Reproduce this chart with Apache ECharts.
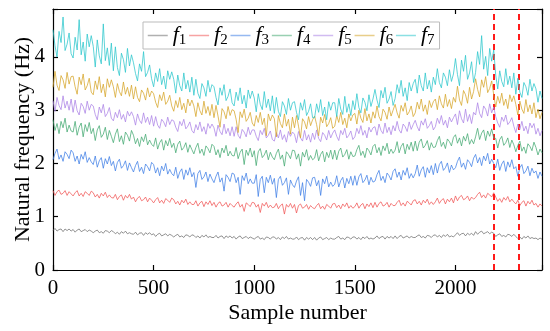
<!DOCTYPE html>
<html><head><meta charset="utf-8">
<script src="https://cdn.jsdelivr.net/npm/echarts@6/dist/echarts.min.js"></script>
<style>html,body{margin:0;padding:0;background:#fff}#c{width:550px;height:331px}</style>
</head><body><div id="c"></div>
<script>
const sampleNumbers = [0,10,20,30,40,50,60,70,80,90,100,110,120,130,140,150,160,170,180,190,200,210,220,230,240,250,260,270,280,290,300,310,320,330,340,350,360,370,380,390,400,410,420,430,440,450,460,470,480,490,500,510,520,530,540,550,560,570,580,590,600,610,620,630,640,650,660,670,680,690,700,710,720,730,740,750,760,770,780,790,800,810,820,830,840,850,860,870,880,890,900,910,920,930,940,950,960,970,980,990,1000,1010,1020,1030,1040,1050,1060,1070,1080,1090,1100,1110,1120,1130,1140,1150,1160,1170,1180,1190,1200,1210,1220,1230,1240,1250,1260,1270,1280,1290,1300,1310,1320,1330,1340,1350,1360,1370,1380,1390,1400,1410,1420,1430,1440,1450,1460,1470,1480,1490,1500,1510,1520,1530,1540,1550,1560,1570,1580,1590,1600,1610,1620,1630,1640,1650,1660,1670,1680,1690,1700,1710,1720,1730,1740,1750,1760,1770,1780,1790,1800,1810,1820,1830,1840,1850,1860,1870,1880,1890,1900,1910,1920,1930,1940,1950,1960,1970,1980,1990,2000,2010,2020,2030,2040,2050,2060,2070,2080,2090,2100,2110,2120,2130,2140,2150,2160,2170,2180,2190,2200,2210,2220,2230,2240,2250,2260,2270,2280,2290,2300,2310,2320,2330,2340,2350,2360,2370,2380,2390,2400,2410,2420,2430];

const f1 = [.74,.78,.73,.76,.77,.72,.77,.74,.77,.73, .76,.71,.75,.77,.72,.74,.76,.72,.75,.73, .70,.73,.75,.70,.72,.69,.74,.73,.70,.74, .72,.68,.71,.67,.72,.69,.73,.68,.70,.68, .67,.71,.66,.69,.70,.65,.70,.67,.70,.66, .68,.63,.67,.69,.64,.66,.68,.64,.67,.65, .62,.65,.67,.62,.64,.61,.66,.65,.62,.66, .65,.61,.64,.60,.65,.62,.66,.61,.63,.61, .61,.65,.60,.63,.64,.59,.64,.61,.64,.60, .63,.58,.62,.64,.59,.61,.63,.59,.62,.60, .58,.61,.63,.58,.60,.57,.62,.61,.58,.62, .62,.58,.61,.57,.62,.59,.63,.58,.60,.58, .58,.62,.57,.60,.61,.56,.61,.58,.61,.57, .61,.56,.60,.62,.57,.59,.61,.57,.60,.58, .58,.61,.63,.58,.60,.57,.62,.61,.58,.62, .62,.58,.61,.57,.62,.59,.63,.58,.60,.58, .60,.64,.59,.62,.63,.58,.63,.60,.63,.59, .64,.59,.63,.65,.60,.62,.64,.60,.63,.61, .61,.64,.66,.61,.63,.60,.65,.64,.61,.65, .66,.62,.65,.61,.66,.63,.67,.62,.64,.62, .66,.70,.65,.68,.69,.64,.69,.66,.69,.65, .72,.67,.71,.73,.68,.70,.72,.68,.71,.69, .63,.66,.68,.63,.65,.62,.67,.66,.63,.67, .63,.59,.62,.58,.63,.60,.64,.59,.61,.59, .60,.57,.60,.58];
const f2 = [1.49,1.40,1.47,1.50,1.42,1.44,1.49,1.40,1.47,1.43, 1.39,1.45,1.49,1.39,1.44,1.38,1.47,1.44,1.40,1.48, 1.45,1.37,1.42,1.35,1.44,1.39,1.46,1.36,1.41,1.36, 1.35,1.42,1.32,1.38,1.41,1.31,1.40,1.35,1.42,1.33, 1.37,1.28,1.35,1.38,1.30,1.32,1.37,1.28,1.35,1.31, 1.26,1.32,1.36,1.26,1.31,1.25,1.34,1.31,1.27,1.35, 1.32,1.24,1.29,1.22,1.31,1.26,1.33,1.23,1.28,1.23, 1.23,1.30,1.20,1.26,1.29,1.19,1.28,1.23,1.30,1.21, 1.27,1.18,1.25,1.28,1.20,1.22,1.27,1.18,1.25,1.21, 1.18,1.24,1.28,1.18,1.23,1.10,1.26,1.23,1.19,1.27, 1.26,1.18,1.23,1.08,1.25,1.20,1.27,1.17,1.22,1.17, 1.18,1.25,1.15,1.21,1.24,1.05,1.23,1.18,1.25,1.16, 1.23,1.07,1.21,1.24,1.16,1.18,1.23,1.14,1.21,1.17, 1.15,1.21,1.25,1.15,1.20,1.14,1.23,1.20,1.16,1.24, 1.25,1.17,1.22,1.15,1.24,1.19,1.26,1.16,1.21,1.16, 1.19,1.26,1.16,1.22,1.25,1.15,1.24,1.19,1.26,1.17, 1.27,1.18,1.25,1.28,1.20,1.22,1.27,1.18,1.25,1.21, 1.21,1.27,1.31,1.21,1.26,1.20,1.29,1.26,1.22,1.30, 1.32,1.24,1.29,1.22,1.31,1.26,1.33,1.23,1.28,1.23, 1.28,1.35,1.25,1.31,1.34,1.24,1.33,1.28,1.35,1.26, 1.39,1.30,1.37,1.40,1.32,1.34,1.39,1.30,1.37,1.33, 1.36,1.42,1.46,1.36,1.41,1.35,1.44,1.41,1.37,1.45, 1.37,1.29,1.34,1.27,1.36,1.31,1.38,1.28,1.33,1.28, 1.24,1.31,1.21,1.27,1.30,1.20,1.29,1.24,1.31,1.22, 1.25,1.18,1.24,1.20];
const f3 = [2.07,2.19,2.27,2.08,2.16,2.04,2.22,2.17,2.09,2.25, 2.20,2.04,2.14,1.99,2.17,2.08,2.22,2.02,2.11,2.03, 1.98,2.14,1.93,2.05,2.11,1.91,2.09,1.99,2.13,1.96, 2.04,1.86,2.02,2.08,1.91,1.96,2.05,1.87,2.01,1.92, 1.84,1.96,2.04,1.85,1.93,1.81,1.99,1.94,1.86,2.02, 1.98,1.82,1.92,1.77,1.95,1.86,2.00,1.80,1.89,1.81, 1.77,1.93,1.72,1.84,1.90,1.70,1.88,1.78,1.92,1.75, 1.83,1.55,1.81,1.87,1.70,1.75,1.84,1.66,1.80,1.71, 1.64,1.76,1.84,1.65,1.73,1.48,1.79,1.74,1.66,1.82, 1.80,1.64,1.74,1.42,1.77,1.68,1.82,1.62,1.71,1.63, 1.63,1.79,1.38,1.70,1.76,1.45,1.74,1.64,1.78,1.61, 1.72,1.36,1.70,1.76,1.59,1.64,1.73,1.42,1.69,1.60, 1.55,1.67,1.75,1.40,1.64,1.30,1.70,1.65,1.57,1.73, 1.74,1.58,1.68,1.40,1.71,1.62,1.76,1.56,1.65,1.57, 1.61,1.77,1.56,1.68,1.74,1.54,1.72,1.62,1.76,1.59, 1.77,1.59,1.75,1.81,1.64,1.69,1.78,1.60,1.74,1.65, 1.67,1.79,1.87,1.68,1.76,1.64,1.82,1.77,1.69,1.85, 1.90,1.74,1.84,1.69,1.87,1.78,1.92,1.72,1.81,1.73, 1.81,1.97,1.76,1.88,1.94,1.74,1.92,1.82,1.96,1.79, 2.00,1.82,1.98,2.04,1.87,1.92,2.01,1.83,1.97,1.88, 1.92,2.04,2.12,1.93,2.01,1.89,2.07,2.02,1.94,2.10, 2.17,2.01,2.11,1.96,2.14,2.05,2.19,1.99,2.08,2.00, 1.92,2.08,1.87,1.99,2.05,1.85,2.03,1.93,2.07,1.90, 1.94,1.76,1.92,1.98,1.81,1.86,1.95,1.77,1.91,1.82, 1.86,1.72,1.84,1.76];
const f4 = [2.82,2.62,2.75,2.56,2.79,2.67,2.85,2.59,2.72,2.61, 2.59,2.79,2.53,2.68,2.76,2.50,2.73,2.60,2.77,2.56, 2.66,2.43,2.63,2.71,2.49,2.55,2.68,2.45,2.62,2.51, 2.39,2.55,2.65,2.41,2.52,2.36,2.59,2.53,2.42,2.62, 2.53,2.37,2.47,2.32,2.50,2.41,2.55,2.35,2.44,2.36, 2.32,2.48,2.27,2.39,2.45,2.25,2.43,2.33,2.47,2.30, 2.38,2.20,2.36,2.42,2.25,2.30,2.39,2.21,2.35,2.26, 2.18,2.30,2.38,2.19,2.27,2.15,2.33,2.28,2.20,2.36, 2.32,2.16,2.26,2.11,2.29,2.20,2.34,2.14,2.23,2.15, 2.14,2.30,2.09,2.21,2.27,1.98,2.25,2.15,2.29,2.12, 2.24,1.96,2.22,2.28,2.11,2.16,2.25,2.07,2.21,2.12, 2.07,2.19,2.27,2.08,2.16,1.95,2.22,2.17,2.09,2.25, 2.24,2.08,2.18,1.95,2.21,2.12,2.26,2.06,2.15,2.07, 2.10,2.26,2.05,2.17,2.23,2.03,2.21,2.11,2.25,2.08, 2.25,2.07,2.23,2.29,2.12,2.17,2.26,2.08,2.22,2.13, 2.14,2.26,2.34,2.15,2.23,2.11,2.29,2.24,2.16,2.32, 2.36,2.20,2.30,2.15,2.33,2.24,2.38,2.18,2.27,2.19, 2.25,2.41,2.20,2.32,2.38,2.18,2.36,2.26,2.40,2.23, 2.42,2.24,2.40,2.46,2.29,2.34,2.43,2.25,2.39,2.30, 2.31,2.43,2.51,2.32,2.40,2.28,2.46,2.41,2.33,2.49, 2.54,2.38,2.48,2.33,2.51,2.42,2.56,2.36,2.45,2.37, 2.50,2.66,2.45,2.57,2.63,2.43,2.61,2.51,2.65,2.48, 2.47,2.29,2.45,2.51,2.34,2.39,2.48,2.30,2.44,2.35, 2.22,2.34,2.42,2.23,2.31,2.19,2.37,2.32,2.24,2.40, 2.30,2.16,2.27,2.20];
const f5 = [3.18,2.98,3.24,3.09,3.01,3.27,3.04,3.17,3.00,3.21, 2.96,3.19,2.99,2.91,3.13,3.07,2.94,3.17,3.00,3.11, 3.08,2.92,2.82,3.06,2.95,3.11,2.88,2.94,3.05,2.85, 2.80,2.96,2.86,3.01,2.83,2.92,2.78,2.98,2.89,2.97, 2.88,2.72,2.93,2.81,2.75,2.95,2.77,2.87,2.73,2.90, 2.70,2.88,2.72,2.66,2.83,2.78,2.69,2.87,2.73,2.82, 2.80,2.68,2.60,2.79,2.71,2.83,2.65,2.70,2.78,2.62, 2.57,2.73,2.63,2.78,2.60,2.69,2.55,2.75,2.66,2.74, 2.67,2.51,2.72,2.60,2.54,2.74,2.56,2.66,2.52,2.69, 2.51,2.69,2.53,2.47,2.64,2.59,2.50,2.68,2.54,2.63, 2.63,2.51,2.43,2.62,2.54,2.66,2.48,2.53,2.61,2.45, 2.42,2.58,2.48,2.63,2.45,2.54,2.40,2.60,2.51,2.59, 2.55,2.39,2.60,2.48,2.42,2.62,2.44,2.54,2.40,2.57, 2.45,2.63,2.47,2.41,2.58,2.53,2.44,2.62,2.48,2.57, 2.63,2.51,2.43,2.62,2.54,2.66,2.48,2.53,2.61,2.45, 2.50,2.66,2.56,2.71,2.53,2.62,2.48,2.68,2.59,2.67, 2.69,2.53,2.74,2.62,2.56,2.76,2.58,2.68,2.54,2.71, 2.61,2.79,2.63,2.57,2.74,2.69,2.60,2.78,2.64,2.73, 2.81,2.69,2.61,2.80,2.72,2.84,2.66,2.71,2.79,2.63, 2.69,2.85,2.75,2.90,2.72,2.81,2.67,2.87,2.78,2.86, 2.93,2.73,2.99,2.84,2.76,3.02,2.79,2.92,2.75,2.96, 2.91,3.14,2.94,2.86,3.08,3.02,2.89,3.12,2.95,3.06, 2.88,2.76,2.68,2.87,2.79,2.91,2.73,2.78,2.86,2.70, 2.58,2.74,2.64,2.79,2.61,2.70,2.56,2.76,2.67,2.75, 2.55,2.66,2.52,2.62];
const f6 = [3.43,3.73,3.47,3.37,3.65,3.57,3.41,3.71,3.49,3.63, 3.64,3.44,3.30,3.62,3.48,3.68,3.38,3.46,3.60,3.34, 3.29,3.55,3.39,3.63,3.33,3.49,3.25,3.59,3.43,3.57, 3.44,3.24,3.50,3.35,3.27,3.53,3.30,3.43,3.26,3.47, 3.21,3.44,3.24,3.16,3.38,3.32,3.19,3.42,3.25,3.36, 3.31,3.15,3.05,3.29,3.18,3.34,3.11,3.17,3.28,3.08, 2.98,3.18,3.05,3.24,3.01,3.13,2.95,3.21,3.08,3.19, 3.08,2.88,3.14,2.99,2.91,3.17,2.94,3.07,2.90,3.11, 2.86,3.09,2.89,2.68,3.03,2.97,2.84,3.07,2.90,3.01, 2.99,2.83,2.58,2.97,2.86,3.02,2.79,2.85,2.96,2.76, 2.70,2.90,2.77,2.96,2.73,2.85,2.52,2.93,2.80,2.91, 2.84,2.50,2.90,2.75,2.67,2.93,2.70,2.83,2.55,2.87, 2.67,2.90,2.70,2.48,2.84,2.78,2.65,2.88,2.71,2.82, 2.89,2.73,2.52,2.87,2.76,2.92,2.69,2.75,2.86,2.66, 2.70,2.90,2.77,2.96,2.73,2.85,2.67,2.93,2.80,2.91, 2.94,2.74,3.00,2.85,2.77,3.03,2.80,2.93,2.76,2.97, 2.85,3.08,2.88,2.80,3.02,2.96,2.83,3.06,2.89,3.00, 3.11,2.95,2.85,3.09,2.98,3.14,2.91,2.97,3.08,2.88, 2.95,3.15,3.02,3.21,2.98,3.10,2.92,3.18,3.05,3.16, 3.21,3.01,3.27,3.12,3.04,3.30,3.07,3.20,3.03,3.24, 3.15,3.45,3.19,3.09,3.37,3.29,3.13,3.43,3.21,3.35, 3.59,3.39,3.25,3.57,3.43,3.63,3.33,3.41,3.55,3.29, 3.06,3.26,3.13,3.32,3.09,3.21,3.03,3.29,3.16,3.27, 3.11,2.91,3.17,3.02,2.94,3.20,2.97,3.10,2.93,3.14, 2.86,3.02,2.84,2.96];
const f7 = [4.51,4.21,4.00,4.48,4.27,4.75,4.12,4.24,4.45,4.06, 3.98,4.37,4.13,4.70,4.04,4.28,3.92,4.43,4.19,4.40, 4.20,3.81,4.32,4.02,3.87,4.62,3.93,4.17,3.84,4.26, 3.74,4.19,3.80,3.65,4.07,3.95,3.71,4.16,3.83,4.04, 3.89,3.69,3.55,3.87,3.73,4.10,3.63,3.71,3.85,3.59, 3.44,3.70,3.54,3.78,3.48,3.64,3.40,3.74,3.58,3.72, 3.58,3.32,3.66,3.46,3.36,3.70,3.40,3.56,3.34,3.62, 3.28,3.58,3.32,3.22,3.50,3.42,3.26,3.56,3.34,3.48, 3.44,3.24,3.10,3.42,3.28,3.48,3.18,3.26,3.40,3.14, 3.08,3.34,3.18,3.42,3.12,3.28,3.04,3.38,3.22,3.36, 3.23,2.97,3.31,3.11,3.01,3.35,3.05,3.21,2.99,3.27, 2.94,3.24,2.98,2.88,3.16,3.08,2.92,3.22,3.00,3.14, 3.16,2.96,2.82,3.14,3.00,3.20,2.90,2.98,3.12,2.86, 2.86,3.12,2.96,3.20,2.90,3.06,2.82,3.16,3.00,3.14, 3.14,2.88,3.22,3.02,2.92,3.26,2.96,3.12,2.90,3.18, 3.01,3.31,3.05,2.95,3.23,3.15,2.99,3.29,3.07,3.21, 3.39,3.19,3.05,3.37,3.23,3.43,3.13,3.21,3.35,3.09, 3.22,3.48,3.32,3.56,3.26,3.42,3.18,3.52,3.36,3.50, 3.58,3.32,3.66,3.46,3.36,3.70,3.40,3.56,3.34,3.62, 3.48,3.78,3.52,3.42,3.70,3.62,3.46,3.76,3.54,3.68, 3.97,3.67,3.46,3.94,3.73,4.03,3.58,3.70,3.91,3.52, 3.71,4.10,3.86,4.40,3.77,4.01,3.65,4.16,3.92,4.13, 3.66,3.40,3.74,3.54,3.44,3.78,3.48,3.64,3.42,3.70, 3.30,3.60,3.34,3.24,3.52,3.44,3.28,3.58,3.36,3.50, 3.40,3.15,3.36,3.22];

const seriesNames = ['f1','f2','f3','f4','f5','f6','f7'];
const seriesValues = [f1,f2,f3,f4,f5,f6,f7];
const seriesColors = ['#707070','#f05858','#4080e6','#45aa72','#ac84e6','#d6a52a','#2cc6cc'];
const xTicks = [0,500,1000,1500,2000];
const yTicks = [0,1,2,3,4];
const dashedSamples = [2190,2315];

const FONT = '"Liberation Serif","Times New Roman",serif';
const chart = echarts.init(document.getElementById('c'), null, {renderer:'canvas'});

const series = seriesNames.map((n,i)=>({
  name:n, type:'line', symbol:'none', showSymbol:false, animation:false,
  data: sampleNumbers.map((s,j)=>[s, seriesValues[i][j]]),
  lineStyle:{width:0.9, color:seriesColors[i], opacity:0.85},
  itemStyle:{color:seriesColors[i]},
  z: 2+i
}));
series.push({
  name:'cut', type:'line', data:[], silent:true,
  markLine:{silent:true, symbol:'none', animation:false, label:{show:false},
    lineStyle:{color:'#ff1a1a', type:[6,4], width:2},
    data: dashedSamples.map(v=>({xAxis:v}))},
  z: 20
});

const axisCommon = {
  axisLine:{show:true, onZero:false, lineStyle:{color:'#000', width:1.2}},
  axisTick:{show:true, inside:true, length:5, lineStyle:{color:'#000', width:1.2}},
  splitLine:{show:false}
};

chart.setOption({
  backgroundColor:'#fff',
  animation:false,
  grid:{left:53, right:8, top:9, bottom:61, containLabel:false, outerBoundsMode:'none'},
  legend:{
    data: seriesNames, left:143, top:22, orient:'horizontal',
    padding:[1,5,1,4], itemGap:2, itemWidth:20, itemHeight:10,
    borderColor:'#bbb', borderWidth:1,
    itemStyle:{opacity:0},
    lineStyle:{opacity:0.55, width:1.5},
    formatter: n => '{f|f}{s|' + n.slice(1) + '}',
    textStyle:{fontFamily:FONT, color:'#000',
      rich:{ f:{fontFamily:FONT, fontStyle:'italic', fontSize:22, color:'#000', lineHeight:26},
             s:{fontFamily:FONT, fontSize:15, color:'#000', lineHeight:26, padding:[10,0,0,0]} } }
  },
  xAxis:[
    Object.assign({type:'value', min:0, max:2430, interval:500, position:'bottom',
      name:'Sample number', nameLocation:'middle', nameGap:32, nameMoveOverlap:false,
      nameTextStyle:{fontFamily:FONT, fontSize:22, color:'#000'},
      axisLabel:{fontFamily:FONT, fontSize:21, color:'#000', margin:8,
        formatter: v => xTicks.includes(v) ? String(v) : ''}}, axisCommon),
    Object.assign({type:'value', min:0, max:2430, interval:500, position:'top', axisLabel:{show:false}}, axisCommon)
  ],
  yAxis:[
    Object.assign({type:'value', min:0, max:4.9, interval:1, position:'left',
      name:'Natural frequency (Hz)', nameLocation:'middle', nameGap:19, nameMoveOverlap:false,
      nameTextStyle:{fontFamily:FONT, fontSize:22, color:'#000'},
      axisLabel:{fontFamily:FONT, fontSize:21, color:'#000', margin:8,
        formatter: v => yTicks.includes(v) ? String(v) : ''}}, axisCommon),
    Object.assign({type:'value', min:0, max:4.9, interval:1, position:'right', axisLabel:{show:false}}, axisCommon)
  ],
  series: series
});
</script></body></html>
